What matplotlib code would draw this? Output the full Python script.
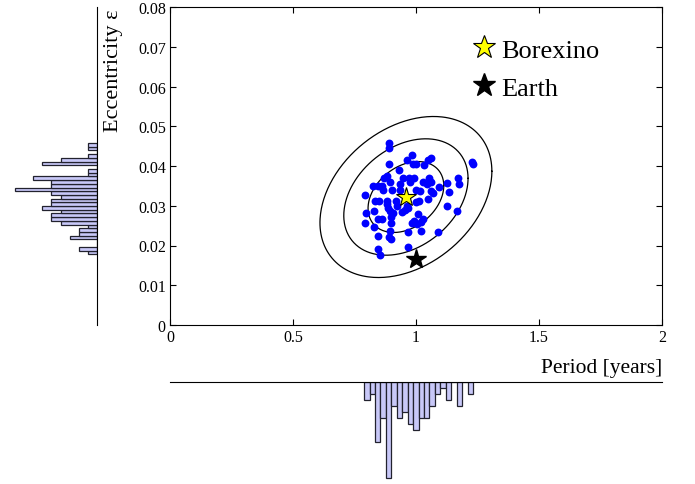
import numpy as np
import matplotlib
matplotlib.use('Agg')
import matplotlib.pyplot as plt
from matplotlib.lines import Line2D

plt.rcParams['font.family'] = ['Liberation Serif', 'DejaVu Serif']

# scatter sample (period in years, eccentricity)
period = [0.890, 0.890, 0.984, 0.963, 0.988, 1.000, 1.049, 1.061, 1.228, 1.232,
          0.890, 1.033, 0.931, 0.882, 0.870, 0.947, 0.972, 0.992, 0.894, 1.028,
          1.045, 1.061, 1.053, 1.126, 1.171, 1.175, 0.825, 0.846, 0.862, 0.866,
          0.902, 0.935, 0.935, 0.976, 1.000, 1.016, 1.093, 1.069, 1.061, 1.134,
          0.793, 0.833, 0.850, 0.882, 0.882, 0.919, 0.923, 0.963, 1.000, 1.012,
          1.049, 1.126, 1.167, 0.797, 0.829, 0.886, 0.894, 0.907, 0.943, 0.955,
          0.967, 1.008, 1.028, 1.020, 1.004, 0.846, 0.862, 0.898, 0.793, 0.898,
          0.984, 0.992, 0.829, 0.894, 1.020, 1.089, 0.846, 0.890, 0.898, 0.967,
          0.967, 0.846, 0.854]
ecc = [0.0458, 0.0445, 0.0428, 0.0415, 0.0405, 0.0405, 0.0415, 0.0420, 0.0410, 0.0405,
       0.0405, 0.0403, 0.0390, 0.0375, 0.0370, 0.0370, 0.0370, 0.0370, 0.0360, 0.0360,
       0.0355, 0.0360, 0.0370, 0.0357, 0.0370, 0.0355, 0.0350, 0.0350, 0.0350, 0.0340,
       0.0340, 0.0355, 0.0340, 0.0360, 0.0340, 0.0337, 0.0347, 0.0332, 0.0337, 0.0335,
       0.0327, 0.0312, 0.0312, 0.0312, 0.0304, 0.0312, 0.0299, 0.0299, 0.0309, 0.0312,
       0.0317, 0.0299, 0.0287, 0.0282, 0.0287, 0.0294, 0.0287, 0.0282, 0.0284, 0.0289,
       0.0294, 0.0279, 0.0267, 0.0259, 0.0254, 0.0267, 0.0267, 0.0272, 0.0257, 0.0257,
       0.0257, 0.0262, 0.0247, 0.0236, 0.0236, 0.0234, 0.0224, 0.0221, 0.0216, 0.0234,
       0.0196, 0.0191, 0.0176]

borexino = (0.959, 0.0322)
earth = (1.0, 0.0167)

# error ellipse parameters
sig_p, sig_e, rho = 0.1016, 0.00589, 0.32
levels = [1.515, 2.486, 3.439]

# histogram of eccentricity (30 bins, bottom to top)
ecc_range = (0.01779, 0.04579)
ecc_counts = [1, 2, 0, 0, 3, 2, 2, 1, 4, 5, 5, 4, 6, 5, 5, 4, 5, 9, 5, 5, 7, 1, 1,
              0, 6, 4, 1, 0, 1, 1]
# histogram of period (20 bins, left to right)
per_range = (0.789, 1.232)
per_counts = [3, 2, 10, 6, 16, 4, 6, 5, 7, 8, 6, 6, 4, 2, 1, 3, 0, 4, 0, 2]

W, H = 695, 485
fig = plt.figure(figsize=(W / 100, H / 100), dpi=100)

ax = fig.add_axes([170 / W, 1 - 326 / H, 492 / W, 318 / H])
ax.scatter(period, ecc, s=32, color='blue', linewidths=0, zorder=2)

t = np.linspace(0, 2 * np.pi, 300)
for k in levels:
    px = borexino[0] + k * sig_p * np.cos(t)
    py = borexino[1] + k * sig_e * (rho * np.cos(t) + np.sqrt(1 - rho**2) * np.sin(t))
    ax.plot(px, py, color='black', lw=0.9, zorder=1)

ax.plot(*borexino, marker='*', ms=15, mfc='yellow', mec='black', mew=0.8, ls='none', zorder=3)
ax.plot(*earth, marker='*', ms=15, color='black', ls='none', zorder=3)

ax.set_xlim(0, 2)
ax.set_ylim(0, 0.08)
ax.set_xticks([0, 0.5, 1, 1.5, 2])
ax.set_xticklabels(['0', '0.5', '1', '1.5', '2'])
ax.set_yticks(np.arange(0, 0.081, 0.01))
ax.set_yticklabels(['0', '0.01', '0.02', '0.03', '0.04', '0.05', '0.06', '0.07', '0.08'])
ax.tick_params(direction='in', top=True, right=True, length=4.5, labelsize=11.5, pad=3)
ax.set_xlabel('Period [years]', fontsize=15.5, loc='right')
ax.xaxis.set_label_coords(1.0, -0.105)
ax.set_ylabel('Eccentricity ε', fontsize=16, loc='top')
ax.yaxis.set_label_coords(-0.095, 0.995)

handles = [Line2D([], [], marker='*', ms=17, mfc='yellow', mec='black', mew=0.8, ls='none'),
           Line2D([], [], marker='*', ms=17, color='black', ls='none')]
ax.legend(handles, ['Borexino', 'Earth'], frameon=False, fontsize=19,
          loc='upper left', bbox_to_anchor=(0.596, 0.935), handlelength=0.8,
          handletextpad=0.25, labelspacing=0.55, borderaxespad=0)

bar_fc = '#c8c8f8'
bar_ec = '#22222e'

# left histogram
axl = fig.add_axes([0, 1 - 326 / H, 97 / W, 318 / H])
edges = np.linspace(ecc_range[0], ecc_range[1], len(ecc_counts) + 1)
axl.barh(edges[:-1], ecc_counts, height=edges[1] - edges[0], align='edge',
         color=bar_fc, edgecolor=bar_ec, lw=0.9)
axl.set_ylim(0, 0.08)
axl.set_xlim(10.65, 0)
for s in ['left', 'top', 'bottom']:
    axl.spines[s].set_visible(False)
axl.set_xticks([])
axl.set_yticks([])
axl.patch.set_alpha(0)

# bottom histogram
axb = fig.add_axes([170 / W, 0, 492 / W, 102 / H])
edges = np.linspace(per_range[0], per_range[1], len(per_counts) + 1)
axb.bar(edges[:-1], per_counts, width=edges[1] - edges[0], align='edge',
        color=bar_fc, edgecolor=bar_ec, lw=0.9)
axb.set_xlim(0, 2)
axb.set_ylim(17, 0)
for s in ['left', 'right', 'bottom']:
    axb.spines[s].set_visible(False)
axb.set_xticks([])
axb.set_yticks([])
axb.patch.set_alpha(0)

fig.savefig('out.png', dpi=100)
